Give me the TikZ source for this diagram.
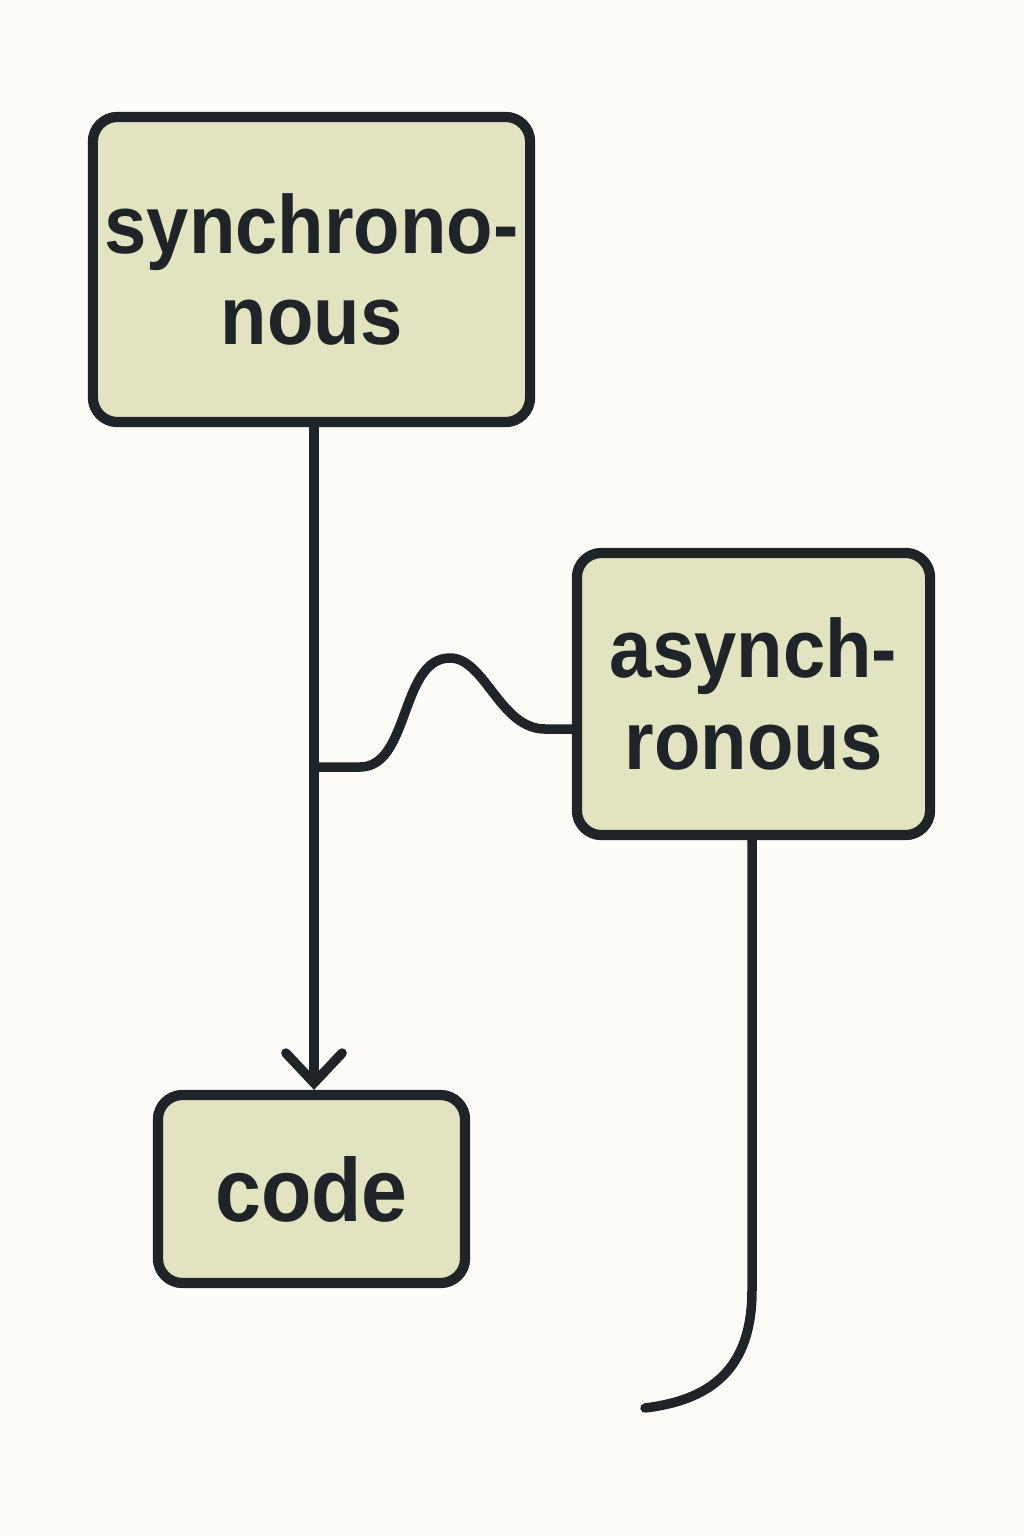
\documentclass[tikz,border=0pt]{standalone}
\usepackage{fontspec}
\newfontfamily\labelfont{Liberation Sans}[FakeStretch=0.92]
\usetikzlibrary{arrows.meta}

\definecolor{paper}{HTML}{FDFCF8}
\definecolor{boxfill}{HTML}{E2E3C0}
\definecolor{ink}{HTML}{1E2428}

\tikzset{
    box/.style={draw=ink, fill=boxfill, line width=2.9pt, rounded corners=7pt,
        align=center, inner sep=0pt, text=ink,
        font=\labelfont\bfseries\fontsize{23.5}{26}\selectfont},
    wire/.style={draw=ink, line width=2.7pt, line cap=round, line join=round}
}

\begin{document}
\begin{tikzpicture}[x=0.01cm, y=-0.01cm]
            % Draw the background
            \fill[paper] (0,0) rectangle (1024,1536);
            \useasboundingbox (0,0) rectangle (1024,1536);

            % Draw the boxes
            \node[box, minimum width=4.37cm, minimum height=3.05cm] (sync) at (311.5,269.5) {synchrono-\\nous};
            \node[box, minimum width=3.53cm, minimum height=2.82cm] (async) at (753.5,694) {asynch-\\ronous};
            \node[box, minimum width=3.07cm, minimum height=1.88cm,
                font=\labelfont\bfseries\fontsize{25.5}{28}\selectfont] (code) at (311.5,1189) {code};

            % Draw the main line
            \draw[wire, -{Straight Barb[length=8.5pt, width=16pt, line cap=round]}]
                (sync.south -| 314,0) -- (code.north -| 314,0);

            % Draw the wiggle
            \coordinate (tap) at (316,767);
            \coordinate (join) at ([yshift=-0.35cm]async.west);
            \draw[wire] (tap) -- (360,767)
                .. controls (410,767) and (400,658) .. (450,658)
                .. controls (485,658) and (500,729) .. (545,729) -- (join);

            % Draw the tail
            \coordinate (tail) at (645,1408);
            \draw[wire] (async.south -| 752,0) -- (752,1290)
                .. controls (752,1370) and (710,1400) .. (tail);

        \end{tikzpicture}
\end{document}
